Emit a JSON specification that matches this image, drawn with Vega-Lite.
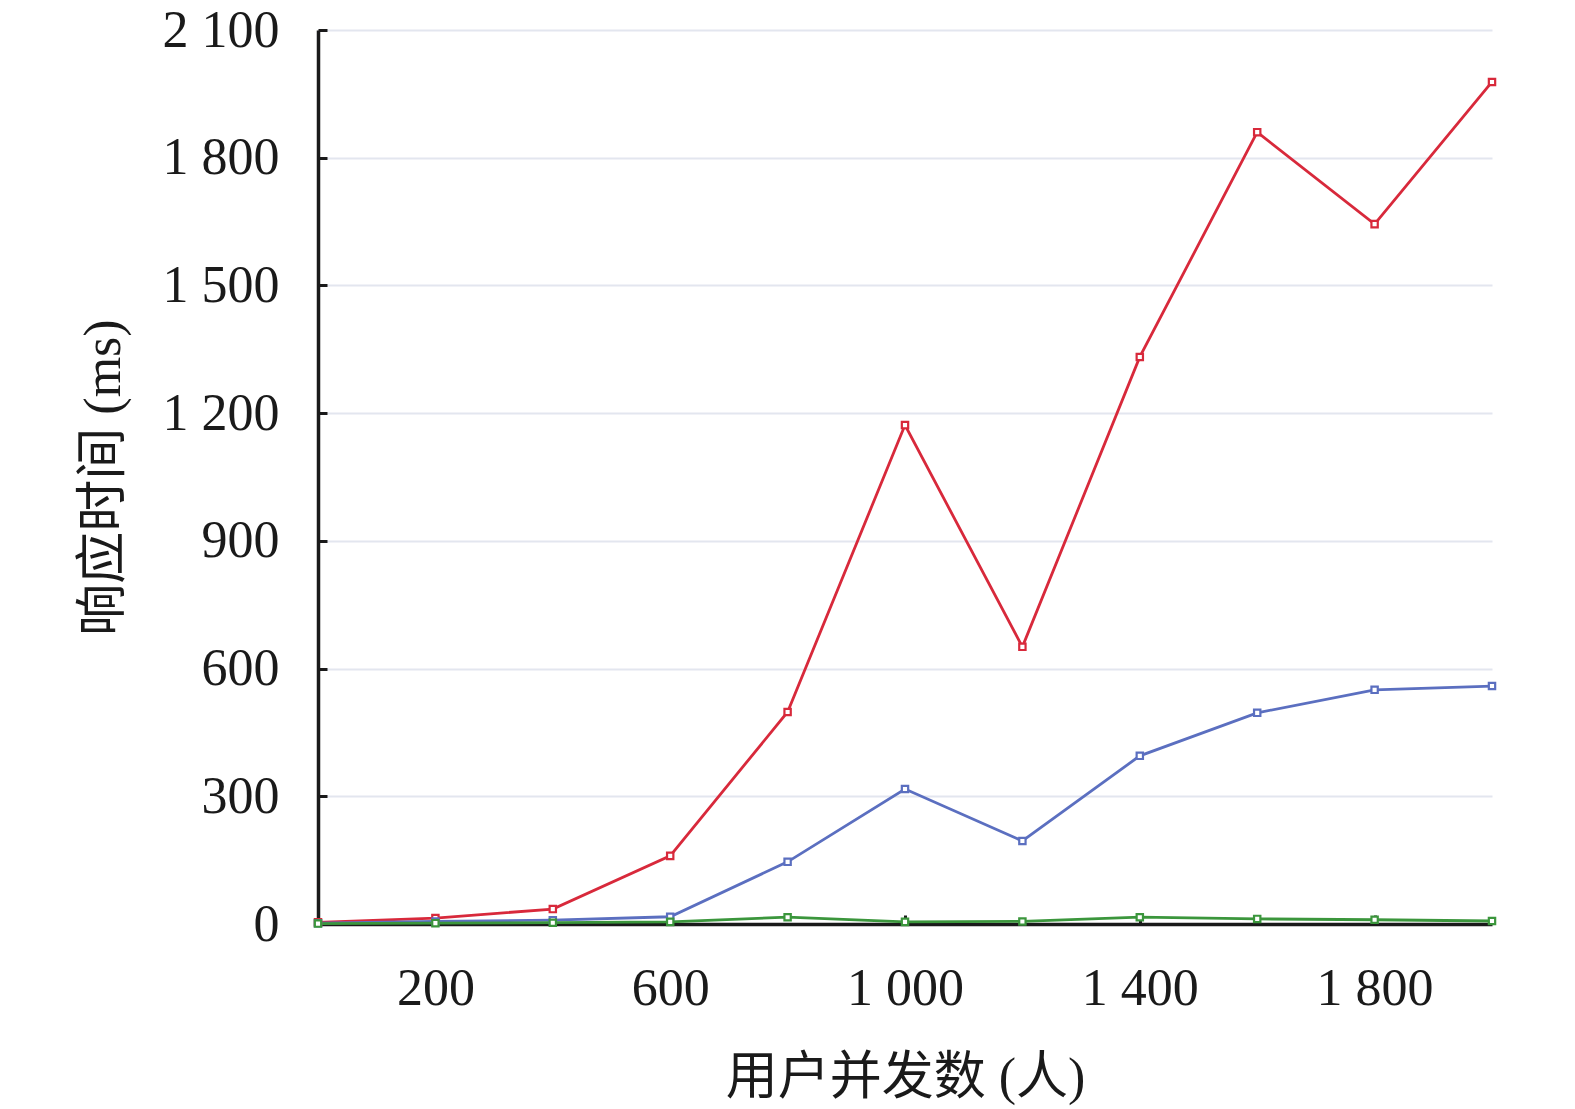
{
  "$schema": "https://vega.github.io/schema/vega-lite/v6.json",
  "width": 1174,
  "height": 894,
  "autosize": {"type": "none"},
  "padding": {"left": 318, "top": 30, "right": 83, "bottom": 185},
  "background": "white",
  "data": {
    "values": [
      {"users": 0, "ms": 4, "series": "red"},
      {"users": 200, "ms": 14, "series": "red"},
      {"users": 400, "ms": 35, "series": "red"},
      {"users": 600, "ms": 160, "series": "red"},
      {"users": 800, "ms": 498, "series": "red"},
      {"users": 1000, "ms": 1172, "series": "red"},
      {"users": 1200, "ms": 651, "series": "red"},
      {"users": 1400, "ms": 1332, "series": "red"},
      {"users": 1600, "ms": 1860, "series": "red"},
      {"users": 1800, "ms": 1644, "series": "red"},
      {"users": 2000, "ms": 1978, "series": "red"},
      {"users": 0, "ms": 2, "series": "blue"},
      {"users": 200, "ms": 6, "series": "blue"},
      {"users": 400, "ms": 9, "series": "blue"},
      {"users": 600, "ms": 17, "series": "blue"},
      {"users": 800, "ms": 146, "series": "blue"},
      {"users": 1000, "ms": 317, "series": "blue"},
      {"users": 1200, "ms": 195, "series": "blue"},
      {"users": 1400, "ms": 395, "series": "blue"},
      {"users": 1600, "ms": 496, "series": "blue"},
      {"users": 1800, "ms": 550, "series": "blue"},
      {"users": 2000, "ms": 559, "series": "blue"},
      {"users": 0, "ms": 1, "series": "green"},
      {"users": 200, "ms": 2, "series": "green"},
      {"users": 400, "ms": 3, "series": "green"},
      {"users": 600, "ms": 5, "series": "green"},
      {"users": 800, "ms": 16, "series": "green"},
      {"users": 1000, "ms": 5, "series": "green"},
      {"users": 1200, "ms": 6, "series": "green"},
      {"users": 1400, "ms": 16, "series": "green"},
      {"users": 1600, "ms": 12, "series": "green"},
      {"users": 1800, "ms": 10, "series": "green"},
      {"users": 2000, "ms": 7, "series": "green"}
    ]
  },
  "mark": {
    "type": "line",
    "strokeWidth": 2.8,
    "point": {"shape": "square", "filled": false, "size": 40, "strokeWidth": 2.2, "fill": "white"}
  },
  "encoding": {
    "x": {
      "field": "users",
      "type": "quantitative",
      "scale": {"domain": [0, 2000], "nice": false},
      "axis": {
        "title": "用户并发数 (人)",
        "values": [200, 600, 1000, 1400, 1800],
        "labelExpr": "replace(format(datum.value, ','), ',', ' ')",
        "grid": false,
        "tickSize": -9,
        "tickWidth": 3,
        "tickColor": "#1a1a1a",
        "domainColor": "#1a1a1a",
        "domainWidth": 3.5,
        "labelPadding": 48,
        "titlePadding": 38
      }
    },
    "y": {
      "field": "ms",
      "type": "quantitative",
      "scale": {"domain": [0, 2100], "nice": false},
      "axis": {
        "title": "响应时间 (ms)",
        "values": [0, 300, 600, 900, 1200, 1500, 1800, 2100],
        "labelExpr": "replace(format(datum.value, ','), ',', ' ')",
        "grid": true,
        "gridColor": "#e3e6ef",
        "gridWidth": 2,
        "tickSize": -9,
        "tickWidth": 3,
        "tickColor": "#1a1a1a",
        "domainColor": "#1a1a1a",
        "domainWidth": 3.5,
        "labelPadding": 48,
        "titlePadding": 32
      }
    },
    "color": {
      "field": "series",
      "type": "nominal",
      "scale": {"domain": ["red", "blue", "green"], "range": ["#d8293b", "#5b6fc0", "#3b963c"]},
      "legend": null
    }
  },
  "config": {
    "view": {"stroke": null},
    "axis": {
      "labelFont": "Liberation Serif",
      "labelFontSize": 52,
      "labelColor": "#1a1a1a",
      "titleFont": "Liberation Serif, Noto Sans CJK SC",
      "titleFontSize": 52,
      "titleFontWeight": "normal",
      "titleColor": "#1a1a1a"
    }
  }
}
